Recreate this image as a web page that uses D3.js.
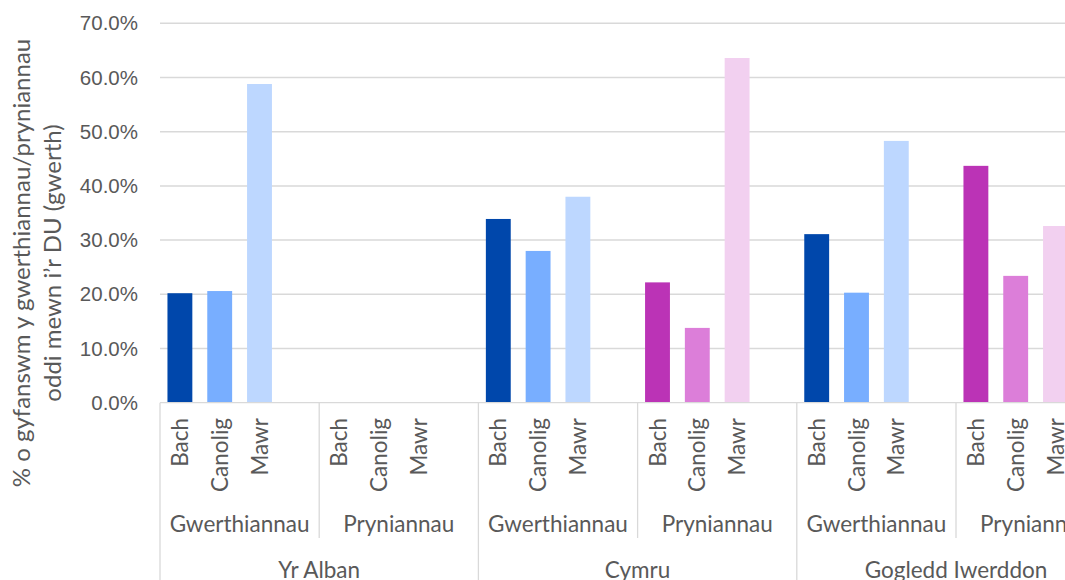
<!DOCTYPE html>
<html>
<head>
<meta charset="utf-8">
<script src="https://cdn.jsdelivr.net/npm/d3@7"></script>
<style>
  body { margin: 0; background: #fff; overflow: hidden; }
  svg { display: block; font-family: Lato, "Open Sans", sans-serif; }
</style>
</head>
<body>
<div class="graph"></div>
<script>
// categories
const regions = ["Yr Alban", "Cymru", "Gogledd Iwerddon"];
const flows = ["Gwerthiannau", "Pryniannau"];
const sizes = ["Bach", "Canolig", "Mawr"];
const yTicks = [0, 0.1, 0.2, 0.3, 0.4, 0.5, 0.6, 0.7];

// values in % (null = no bar)
const albanGwerth = [20.2, 20.6, 58.8];
const albanPryn = [null, null, null];
const cymruGwerth = [33.9, 28.0, 38.0];
const cymruPryn = [22.2, 13.8, 63.6];
const gogleddGwerth = [31.1, 20.3, 48.3];
const gogleddPryn = [43.7, 23.4, 32.6];

const seriesByRegion = [
    [albanGwerth, albanPryn],
    [cymruGwerth, cymruPryn],
    [gogleddGwerth, gogleddPryn]
];

const colours = {
    Gwerthiannau: ["#0047ab", "#78aeff", "#bdd7ff"],
    Pryniannau: ["#bb33b6", "#dc7ed9", "#f2d0f0"]
};

document.addEventListener("DOMContentLoaded", function() {
    const outerWidth = 1065,
        outerHeight = 580,
        margin = { top: 23.3, left: 160 },
        slot = 39.8,
        plotBottom = 402.7;

    // each flow group has the three sizes plus one empty slot
    let slots = [];
    regions.forEach((r, ri) => {
        flows.forEach((f, fi) => {
            sizes.forEach((s, si) => {
                slots.push({ id: slots.length, region: r, flow: f, size: s, value: seriesByRegion[ri][fi][si] });
            });
            slots.push({ id: slots.length, region: r, flow: f, size: "", value: null });
        });
    });

    const x = d3.scaleBand()
        .domain(slots.map(d => d.id))
        .range([margin.left, margin.left + slots.length * slot])
        .paddingInner(0.375)
        .paddingOuter(0.1875);

    const y = d3.scaleLinear()
        .domain([0, 0.7])
        .range([plotBottom, margin.top]);

    const svg = d3.select(".graph").append("svg")
        .attr("width", outerWidth)
        .attr("height", outerHeight);

    const xEnd = margin.left + slots.length * slot;

    // gridlines
    svg.append("g")
        .selectAll("line")
        .data(yTicks.slice(1))
        .join("line")
        .attr("x1", margin.left)
        .attr("x2", xEnd)
        .attr("y1", d => y(d))
        .attr("y2", d => y(d))
        .attr("stroke", "#d9d9d9")
        .attr("stroke-width", 1.5);

    // y axis labels
    const yAxis = svg.append("g")
        .attr("transform", `translate(${margin.left},0)`)
        .call(d3.axisLeft(y).tickValues(yTicks).tickFormat(d3.format(".1%")).tickSize(0).tickPadding(22));
    yAxis.select(".domain").remove();
    yAxis.selectAll("text")
        .attr("fill", "#595959")
        .style("font-size", "20.5px");

    // bars
    svg.append("g")
        .selectAll("rect")
        .data(slots.filter(d => d.value !== null))
        .join("rect")
        .attr("x", d => x(d.id))
        .attr("width", x.bandwidth())
        .attr("y", d => y(d.value / 100))
        .attr("height", d => plotBottom - y(d.value / 100))
        .attr("fill", d => colours[d.flow][sizes.indexOf(d.size)]);

    // category axis
    const axis = svg.append("g").attr("stroke", "#d9d9d9").attr("stroke-width", 1.3);
    axis.append("line")
        .attr("x1", margin.left).attr("x2", xEnd)
        .attr("y1", plotBottom).attr("y2", plotBottom);

    const groupW = slot * 4;
    // flow separators, region ones run to the bottom
    d3.range(0, regions.length * flows.length + 1).forEach(i => {
        const gx = margin.left + i * groupW;
        axis.append("line")
            .attr("x1", gx).attr("x2", gx)
            .attr("y1", plotBottom)
            .attr("y2", i % 2 === 0 ? outerHeight : 538);
    });

    const labelColour = "#595959";

    // size labels
    svg.append("g")
        .selectAll("text")
        .data(slots.filter(d => d.size !== ""))
        .join("text")
        .attr("transform", d => `translate(${x(d.id) + x.bandwidth() / 2 + 8},418) rotate(-90)`)
        .attr("text-anchor", "end")
        .attr("fill", labelColour)
        .style("font-size", "22.5px")
        .text(d => d.size);

    // flow labels
    let flowGroups = [];
    regions.forEach((r, ri) => flows.forEach((f, fi) => flowGroups.push({ flow: f, i: ri * 2 + fi })));
    svg.append("g")
        .selectAll("text")
        .data(flowGroups)
        .join("text")
        .attr("x", d => margin.left + d.i * groupW + groupW / 2)
        .attr("y", 532)
        .attr("text-anchor", "middle")
        .attr("fill", labelColour)
        .style("font-size", "22.5px")
        .text(d => d.flow);

    // region labels
    svg.append("g")
        .selectAll("text")
        .data(regions)
        .join("text")
        .attr("x", (d, i) => margin.left + i * groupW * 2 + groupW)
        .attr("y", 578)
        .attr("text-anchor", "middle")
        .attr("fill", labelColour)
        .style("font-size", "22.5px")
        .text(d => d);

    // y axis title
    const title = svg.append("text")
        .attr("transform", "translate(0,263) rotate(-90)")
        .attr("text-anchor", "middle")
        .attr("fill", labelColour)
        .style("font-size", "24px");
    title.append("tspan").attr("x", 0).attr("y", 30).text("% o gyfanswm y gwerthiannau/pryniannau");
    title.append("tspan").attr("x", 0).attr("y", 61).text("oddi mewn i’r DU (gwerth)");
});
</script>
</body>
</html>
